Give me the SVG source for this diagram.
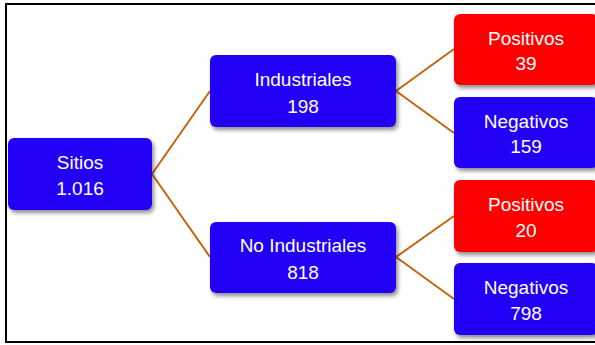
<svg xmlns="http://www.w3.org/2000/svg" width="595" height="345" viewBox="0 0 595 345">
<defs>
<filter id="sh" x="-10%" y="-10%" width="130%" height="140%">
<feDropShadow dx="2" dy="3" stdDeviation="2" flood-color="#000" flood-opacity="0.45"/>
</filter>
<style>
.b{fill:#2200F5;filter:url(#sh)}
.r{fill:#FF0000;filter:url(#sh)}
.t{font-family:"Liberation Sans",Arial,sans-serif;font-size:19px;fill:#fff;text-anchor:middle}
.c{stroke:#C4650C;stroke-width:2;fill:none}
</style>
</defs>
<rect x="0" y="0" width="595" height="345" fill="#fff"/>
<rect x="6" y="4" width="600" height="338" fill="#fff" stroke="#000" stroke-width="2"/>
<g id="connectors">
<path class="c" d="M152,174 L210,91 M152,174 L210,257 M396,91 L454,49 M396,91 L454,133 M396,257 L454,216 M396,257 L454,299"/>
</g>
<g id="sitios">
<rect class="b" x="8" y="138" width="144" height="72" rx="6"/>
<text class="t" x="80" y="169">Sitios</text>
<text class="t" x="80" y="195">1.016</text>
</g>
<g id="industriales">
<rect class="b" x="210" y="55" width="186" height="72" rx="6"/>
<text class="t" x="303" y="86">Industriales</text>
<text class="t" x="303" y="113">198</text>
</g>
<g id="noindustriales">
<rect class="b" x="210" y="222" width="186" height="71" rx="6"/>
<text class="t" x="303" y="252">No Industriales</text>
<text class="t" x="303" y="279">818</text>
</g>
<g id="pos1">
<rect class="r" x="454" y="14" width="144" height="71" rx="6"/>
<text class="t" x="526" y="45">Positivos</text>
<text class="t" x="526" y="70">39</text>
</g>
<g id="neg1">
<rect class="b" x="454" y="97" width="144" height="71" rx="6"/>
<text class="t" x="526" y="128">Negativos</text>
<text class="t" x="526" y="153">159</text>
</g>
<g id="pos2">
<rect class="r" x="454" y="180" width="144" height="72" rx="6"/>
<text class="t" x="526" y="211">Positivos</text>
<text class="t" x="526" y="237">20</text>
</g>
<g id="neg2">
<rect class="b" x="454" y="263" width="144" height="72" rx="6"/>
<text class="t" x="526" y="294">Negativos</text>
<text class="t" x="526" y="320">798</text>
</g>
</svg>
